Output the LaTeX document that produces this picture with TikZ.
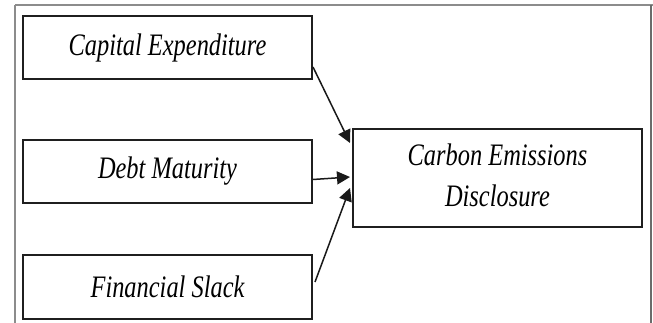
\documentclass[tikz,border=0pt]{standalone}
\usepackage{fontspec}
\setmainfont{Liberation Serif}
\usetikzlibrary{arrows.meta,calc}
\tikzset{
  box/.style={draw=black!88, line width=2pt, minimum width=289pt, inner sep=0pt,
    font=\fontsize{24.4}{31.3}\selectfont\itshape, align=center},
  link/.style={draw=black!90, line width=1.5pt, -{Triangle[length=13pt,width=13pt]}},
  frame/.style={line width=2pt}
}
\newcommand{\vs}[1]{\scalebox{1}[1.28]{#1}}
\begin{document}
\begin{tikzpicture}[x=1pt,y=-1pt]
\useasboundingbox (0,0) rectangle (653,323);
\draw[frame, draw=black!45] (15,5) -- (653,5);
\draw[frame, draw=black!45] (15,5) -- (15,323);
\draw[frame, draw=black!58] (651,5) -- (651,323);
\node[box, minimum height=63pt] (cap) at (167.5,47.5) {\vs{Capital Expenditure}};
\node[box, minimum height=63pt] (debt) at (167.5,171.5) {\vs{Debt Maturity}};
\node[box, minimum height=64pt] (fin) at (167.5,286.5) {\vs{Financial Slack}};
\node[box, minimum height=98pt] (ced) at (497.5,178) {\raisebox{-2pt}{\vs{\begin{tabular}{@{}c@{}}Carbon Emissions\\Disclosure\end{tabular}}}};
\draw[link] ($(cap.east)+(0,19.5)$) -- ($(ced.west)+(-2,-35)$);
\draw[link] ($(debt.east)+(0,8)$) -- ($(ced.west)+(-2,-1)$);
\draw[link] ($(fin.east)+(2,-4.5)$) -- ($(ced.west)+(-2,10)$);
\end{tikzpicture}
\end{document}
